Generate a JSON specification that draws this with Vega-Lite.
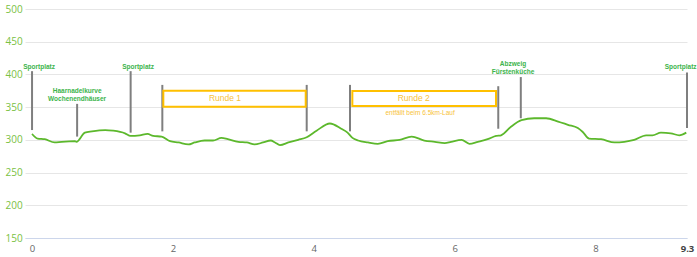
{
  "$schema": "https://vega.github.io/schema/vega-lite/v6.json",
  "width": 662,
  "height": 229,
  "autosize": {"type": "none"},
  "padding": {"left": 25, "top": 9, "right": 10, "bottom": 19},
  "background": "white",
  "config": {"view": {"stroke": null}},
  "datasets": {
    "profile": [
      {"km": 0.0, "elev": 309}, {"km": 0.08, "elev": 302}, {"km": 0.18, "elev": 301},
      {"km": 0.32, "elev": 296}, {"km": 0.42, "elev": 297}, {"km": 0.61, "elev": 298},
      {"km": 0.63, "elev": 297}, {"km": 0.75, "elev": 311}, {"km": 0.85, "elev": 313},
      {"km": 1.04, "elev": 315}, {"km": 1.15, "elev": 314}, {"km": 1.32, "elev": 310},
      {"km": 1.40, "elev": 306}, {"km": 1.53, "elev": 307}, {"km": 1.64, "elev": 309},
      {"km": 1.72, "elev": 306}, {"km": 1.84, "elev": 305}, {"km": 1.96, "elev": 298},
      {"km": 2.08, "elev": 296}, {"km": 2.22, "elev": 293}, {"km": 2.31, "elev": 296},
      {"km": 2.45, "elev": 299}, {"km": 2.57, "elev": 299}, {"km": 2.69, "elev": 303},
      {"km": 2.78, "elev": 301}, {"km": 2.93, "elev": 297}, {"km": 3.05, "elev": 296},
      {"km": 3.16, "elev": 293}, {"km": 3.28, "elev": 296}, {"km": 3.39, "elev": 299},
      {"km": 3.45, "elev": 296}, {"km": 3.52, "elev": 292}, {"km": 3.64, "elev": 296},
      {"km": 3.78, "elev": 300}, {"km": 3.90, "elev": 304}, {"km": 4.04, "elev": 314},
      {"km": 4.23, "elev": 325}, {"km": 4.39, "elev": 317}, {"km": 4.48, "elev": 311},
      {"km": 4.55, "elev": 303}, {"km": 4.63, "elev": 299}, {"km": 4.77, "elev": 296},
      {"km": 4.91, "elev": 294}, {"km": 5.05, "elev": 298}, {"km": 5.22, "elev": 300},
      {"km": 5.39, "elev": 305}, {"km": 5.57, "elev": 299}, {"km": 5.72, "elev": 297},
      {"km": 5.86, "elev": 295}, {"km": 5.95, "elev": 297}, {"km": 6.10, "elev": 300},
      {"km": 6.21, "elev": 294}, {"km": 6.33, "elev": 297}, {"km": 6.47, "elev": 301},
      {"km": 6.59, "elev": 306}, {"km": 6.66, "elev": 307}, {"km": 6.80, "elev": 320},
      {"km": 6.95, "elev": 330}, {"km": 7.13, "elev": 333}, {"km": 7.30, "elev": 333},
      {"km": 7.47, "elev": 328}, {"km": 7.61, "elev": 323}, {"km": 7.75, "elev": 318},
      {"km": 7.82, "elev": 312}, {"km": 7.91, "elev": 302}, {"km": 8.08, "elev": 301},
      {"km": 8.27, "elev": 296}, {"km": 8.41, "elev": 297}, {"km": 8.55, "elev": 300},
      {"km": 8.72, "elev": 307}, {"km": 8.81, "elev": 307}, {"km": 8.93, "elev": 311},
      {"km": 9.07, "elev": 310}, {"km": 9.19, "elev": 307}, {"km": 9.29, "elev": 311}
    ],
    "markers": [
      {"km": 0.0, "top": 405, "bottom": 315},
      {"km": 0.64, "top": 355, "bottom": 305},
      {"km": 1.40, "top": 405, "bottom": 311},
      {"km": 1.85, "top": 384, "bottom": 313},
      {"km": 3.90, "top": 384, "bottom": 313},
      {"km": 4.515, "top": 384, "bottom": 313},
      {"km": 6.62, "top": 382, "bottom": 317},
      {"km": 6.94, "top": 396, "bottom": 333},
      {"km": 9.30, "top": 403, "bottom": 318}
    ],
    "boxes": [
      {"x1": 1.864, "x2": 3.886, "y1": 350.7, "y2": 375.1},
      {"x1": 4.548, "x2": 6.588, "y1": 351.7, "y2": 374.7}
    ],
    "greenLabels": [
      {"km": 0.10, "elev": 408, "text": "Sportplatz", "align": "center"},
      {"km": 0.64, "elev": 371.6, "text": "Haarnadelkurve", "align": "center"},
      {"km": 0.64, "elev": 359.4, "text": "Wochenendhäuser", "align": "center"},
      {"km": 1.505, "elev": 408, "text": "Sportplatz", "align": "center"},
      {"km": 6.83, "elev": 413, "text": "Abzweig", "align": "left"},
      {"km": 6.83, "elev": 400.6, "text": "Fürstenküche", "align": "left"},
      {"km": 9.21, "elev": 408, "text": "Sportplatz", "align": "center"}
    ],
    "yellowLabels": [
      {"km": 2.74, "elev": 364, "text": "Runde 1", "size": 8.5, "weight": "normal"},
      {"km": 5.42, "elev": 364, "text": "Runde 2", "size": 8.5, "weight": "normal"},
      {"km": 5.51, "elev": 341, "text": "entfällt beim 6.5km-Lauf", "size": 6.5, "weight": "bold"}
    ]
  },
  "layer": [
    {
      "data": {"name": "profile"},
      "mark": {"type": "line", "color": "#5cb82c", "strokeWidth": 1.8, "interpolate": "monotone"},
      "encoding": {
        "x": {
          "field": "km", "type": "quantitative",
          "scale": {"domain": [-0.1, 9.3], "nice": false, "zero": false},
          "axis": {
            "title": null, "values": [0, 2, 4, 6, 8, 9.3], "tickCount": 20,
            "labelExpr": "'' + datum.value",
            "grid": false, "ticks": false, "domain": true, "domainColor": "#ccd6eb",
            "labelColor": {"condition": {"test": "datum.value == 9.3", "value": "#444444"}, "value": "#666666"},
            "labelFontWeight": {"condition": {"test": "datum.value == 9.3", "value": "bold"}, "value": "normal"},
            "labelFontSize": 9.5, "labelPadding": 5,
            "labelFont": "Open Sans", "labelFlush": false, "labelOverlap": false
          }
        },
        "y": {
          "field": "elev", "type": "quantitative",
          "scale": {"domain": [150, 500], "nice": false, "zero": false},
          "axis": {
            "title": null, "values": [150, 200, 250, 300, 350, 400, 450, 500], "tickCount": 20,
            "grid": true, "gridColor": "#e6e6e6", "ticks": false, "domain": false,
            "labelAlign": "left", "labelPadding": 20, "labelColor": "#7ac143",
            "labelFontSize": 10, "labelFont": "Open Sans", "labelBaseline": "middle",
            "labelOverlap": false, "labelFlush": false
          }
        }
      }
    },
    {
      "data": {"name": "markers"},
      "mark": {"type": "rule", "color": "#7f7f7f", "strokeWidth": 2},
      "encoding": {
        "x": {"field": "km", "type": "quantitative"},
        "y": {"field": "top", "type": "quantitative"},
        "y2": {"field": "bottom"}
      }
    },
    {
      "data": {"name": "boxes"},
      "mark": {"type": "rect", "fill": "white", "stroke": "#ffc000", "strokeWidth": 2},
      "encoding": {
        "x": {"field": "x1", "type": "quantitative"},
        "x2": {"field": "x2"},
        "y": {"field": "y1", "type": "quantitative"},
        "y2": {"field": "y2"}
      }
    },
    {
      "data": {"name": "greenLabels"},
      "mark": {"type": "text", "color": "#3cb44b", "fontWeight": "bold", "fontSize": 6.5, "font": "Liberation Sans", "baseline": "alphabetic"},
      "encoding": {
        "x": {"field": "km", "type": "quantitative"},
        "y": {"field": "elev", "type": "quantitative"},
        "text": {"field": "text"},
        "align": {"field": "align", "type": "nominal", "scale": null}
      }
    },
    {
      "data": {"name": "yellowLabels"},
      "mark": {"type": "text", "color": "#f7c23a", "font": "Liberation Sans", "baseline": "middle", "align": "center"},
      "encoding": {
        "x": {"field": "km", "type": "quantitative"},
        "y": {"field": "elev", "type": "quantitative"},
        "text": {"field": "text"},
        "size": {"field": "size", "type": "quantitative", "scale": null},
        "fontWeight": {"field": "weight", "type": "nominal", "scale": null}
      }
    }
  ]
}
